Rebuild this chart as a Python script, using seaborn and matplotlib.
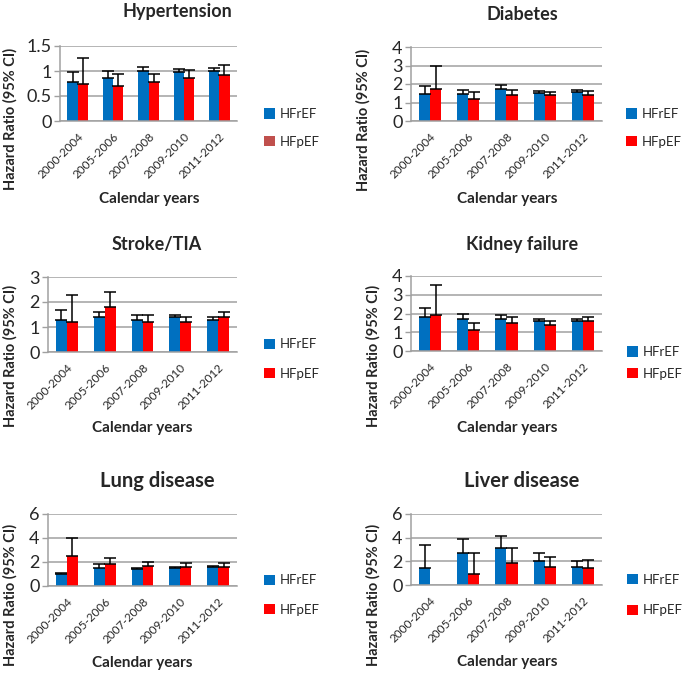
import numpy as np
import pandas as pd
import matplotlib
matplotlib.use("Agg")
import matplotlib.pyplot as plt
import seaborn as sns
from matplotlib.patches import Patch
from matplotlib.container import BarContainer
from matplotlib.ticker import FixedLocator

# ---------------- data ----------------
periods = ["2000-2004", "2005-2006", "2007-2008", "2009-2010", "2011-2012"]
series = ["HFrEF", "HFpEF"]

hyp_hfref = [0.79, 0.87, 1.00, 0.98, 1.00]
hyp_hfref_up = [0.98, 1.00, 1.09, 1.05, 1.06]
hyp_hfpef = [0.75, 0.71, 0.78, 0.87, 0.93]
hyp_hfpef_up = [1.26, 0.94, 0.94, 1.03, 1.12]

dia_hfref = [1.47, 1.47, 1.75, 1.50, 1.57]
dia_hfref_up = [1.88, 1.68, 1.93, 1.60, 1.67]
dia_hfpef = [1.73, 1.17, 1.38, 1.38, 1.42]
dia_hfpef_up = [2.95, 1.58, 1.70, 1.58, 1.63]

str_hfref = [1.3, 1.4, 1.3, 1.4, 1.3]
str_hfref_up = [1.7, 1.6, 1.5, 1.5, 1.4]
str_hfpef = [1.2, 1.8, 1.2, 1.2, 1.4]
str_hfpef_up = [2.3, 2.4, 1.5, 1.4, 1.6]

kid_hfref = [1.8, 1.7, 1.7, 1.6, 1.6]
kid_hfref_up = [2.3, 2.0, 1.9, 1.7, 1.7]
kid_hfpef = [1.9, 1.1, 1.5, 1.4, 1.6]
kid_hfpef_up = [3.5, 1.5, 1.8, 1.6, 1.8]

lung_hfref = [1.0, 1.5, 1.4, 1.5, 1.6]
lung_hfref_up = [1.1, 1.8, 1.5, 1.6, 1.7]
lung_hfpef = [2.5, 1.8, 1.7, 1.6, 1.6]
lung_hfpef_up = [4.0, 2.3, 2.0, 1.9, 1.9]

liv_hfref = [1.4, 2.7, 3.1, 2.0, 1.5]
liv_hfref_up = [3.4, 3.9, 4.1, 2.7, 2.0]
liv_hfpef = [np.nan, 0.9, 1.9, 1.5, 1.4]
liv_hfpef_up = [np.nan, 2.7, 3.1, 2.4, 2.1]

titles = ["Hypertension", "Diabetes", "Stroke/TIA", "Kidney failure",
          "Lung disease", "Liver disease"]
yticks_list = [[0, 0.5, 1, 1.5], [0, 1, 2, 3, 4], [0, 1, 2, 3],
               [0, 1, 2, 3, 4], [0, 2, 4, 6], [0, 2, 4, 6]]
ytick_labels = [["0", "0.5", "1", "1.5"], ["0", "1", "2", "3", "4"],
                ["0", "1", "2", "3"], ["0", "1", "2", "3", "4"],
                ["0", "2", "4", "6"], ["0", "2", "4", "6"]]

values = [
    (hyp_hfref, hyp_hfref_up, hyp_hfpef, hyp_hfpef_up),
    (dia_hfref, dia_hfref_up, dia_hfpef, dia_hfpef_up),
    (str_hfref, str_hfref_up, str_hfpef, str_hfpef_up),
    (kid_hfref, kid_hfref_up, kid_hfpef, kid_hfpef_up),
    (lung_hfref, lung_hfref_up, lung_hfpef, lung_hfpef_up),
    (liv_hfref, liv_hfref_up, liv_hfpef, liv_hfpef_up),
]

# ---------------- style / layout ----------------
BLUE = "#0070C0"
RED = "#FF0000"
LEG_RED_HYP = "#C0504D"
GRID = "#A0A0A0"

sns.set_style("white")
plt.rcParams["font.family"] = ["Lato", "DejaVu Sans"]

W, H = 685, 674
fig = plt.figure(figsize=(W / 100, H / 100), dpi=100)

# axes boxes (x0, x1, ytop, ybottom) in pixels
boxes = [(60, 237, 46, 121), (411, 602, 47, 121),
         (48, 237, 277, 352), (411, 602, 276, 351),
         (48, 237, 514, 586), (411, 602, 514, 585)]
title_pos = [(177, 11, 13), (522, 15, 13), (157, 244, 13),
             (522, 244, 13), (157, 481, 14.5), (522, 481, 14.5)]
ylab_pos = [(10, 119), (363, 120), (10, 356), (373, 356), (10, 595), (373, 595)]
xlab_pos = [(149, 199), (507, 199), (142, 428), (507, 428), (142, 663), (507, 662)]
leg_pos = [(264, 128, 1.2), (626, 128, 1.2), (264, 359, 1.3),
           (627, 363, 0.75), (264, 595, 1.3), (627, 595, 1.4)]


def fx(x):
    return x / W


def fy(y):
    return 1 - y / H


for i in range(6):
    x0, x1, yt, yb = boxes[i]
    ax = fig.add_axes([fx(x0), fy(yb), (x1 - x0) / W, (yb - yt) / H])
    rf, rfu, pf, pfu = values[i]
    df = pd.DataFrame({
        "period": periods * 2,
        "series": [series[0]] * 5 + [series[1]] * 5,
        "hr": list(rf) + list(pf),
    })
    uppers = {series[0]: rfu, series[1]: pfu}
    sns.barplot(data=df, x="period", y="hr", hue="series", order=periods,
                hue_order=series, palette=[BLUE, RED], width=0.58,
                saturation=1, errorbar=None, ax=ax, legend=False,
                edgecolor="none", linewidth=0, zorder=2)
    bar_conts = [c for c in ax.containers if isinstance(c, BarContainer)]
    for k, cont in enumerate(bar_conts):
        ups = uppers[series[k]]
        for bar in cont:
            h = bar.get_height()
            if not np.isfinite(h):
                continue
            xc = bar.get_x() + bar.get_width() / 2
            cat = int(round(xc))
            up = ups[cat]
            if not np.isfinite(up):
                continue
            ax.errorbar([xc], [h], yerr=[[0], [up - h]], fmt="none",
                        ecolor="black", elinewidth=1.1, capsize=4.5,
                        capthick=1.1, zorder=3)

    ax.set_xlim(-0.5, 4.5)
    yt_vals = yticks_list[i]
    ax.set_ylim(0, yt_vals[-1])
    ax.set_yticks(yt_vals)
    ax.set_yticklabels(ytick_labels[i], fontsize=13)
    ax.set_axisbelow(True)
    ax.yaxis.grid(True, color=GRID, lw=1.1)
    ax.xaxis.grid(False)
    for s in ["top", "right"]:
        ax.spines[s].set_visible(False)
    for s in ["left", "bottom"]:
        ax.spines[s].set_color(GRID)
        ax.spines[s].set_linewidth(1.1)
    ax.set_xlabel("")
    ax.set_ylabel("")
    ax.set_xticks(range(5))
    ax.set_xticklabels(periods, rotation=45, ha="right",
                       rotation_mode="anchor", fontsize=8.5)
    ax.xaxis.set_minor_locator(FixedLocator([-0.5, 0.5, 1.5, 2.5, 3.5, 4.5]))
    ax.tick_params(axis="x", which="major", length=0, pad=7)
    ax.tick_params(axis="x", which="minor", length=4, color=GRID, width=1)
    ax.tick_params(axis="y", length=4, color=GRID, width=1, pad=2,
                   direction="out", left=True)

    # title
    tx, ty, tfs = title_pos[i]
    fig.text(fx(tx), fy(ty), titles[i], ha="center", va="center",
             fontsize=tfs, fontweight="bold")
    # y label
    lx, ly = ylab_pos[i]
    fig.text(fx(lx), fy(ly), "Hazard Ratio (95% CI)", rotation=90,
             ha="center", va="center", fontsize=10.5, fontweight="bold")
    # x label
    cx, cy = xlab_pos[i]
    fig.text(fx(cx), fy(cy), "Calendar years", ha="center", va="center",
             fontsize=11, fontweight="bold")
    # legend
    gx, gy, spacing = leg_pos[i]
    red_leg = LEG_RED_HYP if i == 0 else RED
    handles = [Patch(facecolor=BLUE, edgecolor="none", label=series[0]),
               Patch(facecolor=red_leg, edgecolor="none", label=series[1])]
    ax.legend(handles=handles, loc="center left",
              bbox_to_anchor=(fx(gx), fy(gy)), bbox_transform=fig.transFigure,
              frameon=False, fontsize=9.5, handlelength=0.8,
              handleheight=0.8, handletextpad=0.4, labelspacing=spacing,
              borderpad=0, borderaxespad=0)

fig.savefig("out.png", dpi=100)
